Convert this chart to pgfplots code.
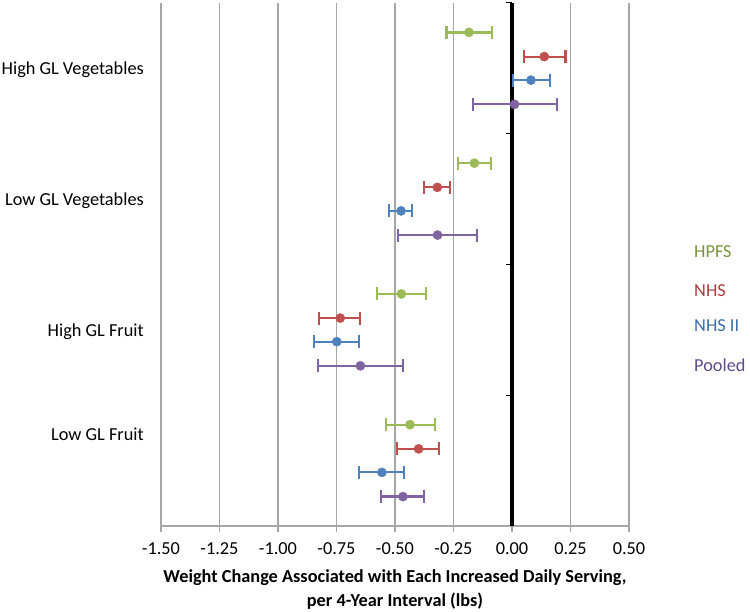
\documentclass[border=0pt]{standalone}
\usepackage{pgfplots}
\pgfplotsset{compat=1.18}
\usepackage{fontspec}
\setmainfont{Carlito}
\definecolor{cG}{HTML}{9BBB59}
\definecolor{cR}{HTML}{C0504D}
\definecolor{cB}{HTML}{4F81BD}
\definecolor{cP}{HTML}{8064A2}
\definecolor{tG}{HTML}{77933C}
\definecolor{tR}{HTML}{A5403D}
\definecolor{tB}{HTML}{3B6EA8}
\definecolor{tP}{HTML}{604A8B}
\definecolor{gridc}{HTML}{A6A6A6}
\newcommand\cf{\fontsize{18.3}{24}\selectfont}
\pgfplotstableread{
x y ep em
-0.184 3.775 0.100 0.096
-0.161 2.775 0.071 0.071
-0.473 1.775 0.104 0.104
-0.436 0.775 0.107 0.104
}\hpfs
\pgfplotstableread{
x y ep em
0.138 3.59 0.091 0.087
-0.319 2.59 0.053 0.058
-0.734 1.59 0.086 0.091
-0.399 0.59 0.087 0.091
}\nhs
\pgfplotstableread{
x y ep em
0.081 3.41 0.081 0.078
-0.474 2.41 0.048 0.053
-0.749 1.41 0.096 0.096
-0.556 0.41 0.094 0.097
}\nhsii
\pgfplotstableread{
x y ep em
0.011 3.225 0.180 0.179
-0.318 2.225 0.170 0.170
-0.648 1.225 0.182 0.181
-0.466 0.225 0.089 0.094
}\pooled
\pgfplotsset{
 ser/.style={only marks, mark=*, mark size=4.6pt, color=#1, mark options={fill=#1, draw=#1},
   error bars/.cd, x dir=both, x explicit,
   error bar style={line width=2.2pt, #1},
   error mark options={rotate=90, mark size=6.5pt, line width=2.2pt, #1}},
}
\begin{document}
\begin{tikzpicture}
\begin{axis}[
 scale only axis, width=468pt, height=523pt,
 xmin=-1.5, xmax=0.5, ymin=0, ymax=4,
 axis x line*=bottom, axis y line=none,
 axis line style={draw=gridc, line width=1.6pt, -},
 xtick={-1.5,-1.25,-1,-0.75,-0.5,-0.25,0,0.25,0.5},
 ytick=\empty,
 tick align=outside, major tick length=6pt,
 tick style={draw=gridc, line width=1.6pt},
 xmajorgrids, grid style={draw=gridc, line width=1.6pt},
 xticklabel style={font=\cf, yshift=-7pt, /pgf/number format/.cd, fixed, fixed zerofill, precision=2, assume math mode=true},
 xlabel={Weight Change Associated with Each Increased Daily Serving,\\per 4-Year Interval (lbs)},
 xlabel style={font=\cf\bfseries, align=center, at={(axis description cs:0.5,0)}, anchor=north, yshift=-43pt, inner sep=0pt},
 clip=false,
]
\coordinate (sw) at (rel axis cs:0,0);
\coordinate (ne) at (rel axis cs:1,1);
\draw[line width=3.4pt] (axis cs:0,0) -- (axis cs:0,4);
\draw[line width=1pt] (axis cs:0,1) -- ([xshift=-6pt]axis cs:0,1);
\draw[line width=1pt] (axis cs:0,2) -- ([xshift=-6pt]axis cs:0,2);
\draw[line width=1pt] (axis cs:0,3) -- ([xshift=-6pt]axis cs:0,3);
\draw[line width=1pt] (axis cs:0,4) -- ([xshift=-6pt]axis cs:0,4);
\addplot[ser=cG] table[x=x, y=y, x error plus=ep, x error minus=em] {\hpfs};
\addplot[ser=cR] table[x=x, y=y, x error plus=ep, x error minus=em] {\nhs};
\addplot[ser=cB] table[x=x, y=y, x error plus=ep, x error minus=em] {\nhsii};
\addplot[ser=cP] table[x=x, y=y, x error plus=ep, x error minus=em] {\pooled};
\node[anchor=east, font=\cf, inner sep=0pt, xshift=-17pt] at (axis cs:-1.5,3.488) {High GL Vegetables};
\node[anchor=east, font=\cf, inner sep=0pt, xshift=-17pt] at (axis cs:-1.5,2.486) {Low GL Vegetables};
\node[anchor=east, font=\cf, inner sep=0pt, xshift=-17pt] at (axis cs:-1.5,1.484) {High GL Fruit};
\node[anchor=east, font=\cf, inner sep=0pt, xshift=-17pt] at (axis cs:-1.5,0.704) {Low GL Fruit};
\node[anchor=west, font=\cf, text=tG, inner sep=0pt, xshift=65pt] at (axis cs:0.5,2.096) {HPFS};
\node[anchor=west, font=\cf, text=tR, inner sep=0pt, xshift=65pt] at (axis cs:0.5,1.797) {NHS};
\node[anchor=west, font=\cf, text=tB, inner sep=0pt, xshift=65pt] at (axis cs:0.5,1.530) {NHS II};
\node[anchor=west, font=\cf, text=tP, inner sep=0pt, xshift=65pt] at (axis cs:0.5,1.231) {Pooled};
\end{axis}
\pgfresetboundingbox
\path ([shift={(-161pt,-85pt)}]sw) rectangle ([shift={(121pt,3pt)}]ne);
\end{tikzpicture}
\end{document}
